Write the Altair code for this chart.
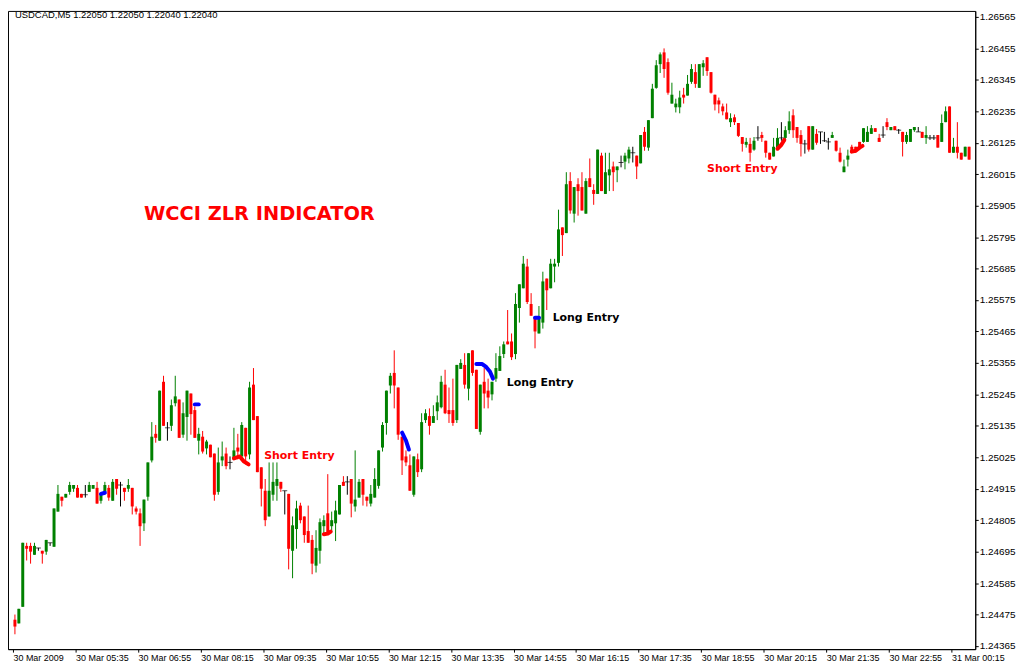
import json
import altair as alt
import pandas as pd

# ---------------- data (USDCAD M5, bar 0 = 30 Mar 04:15) ----------------
opens = [
    1.24457, 1.24444, 1.24502, 1.24715, 1.24715, 1.24684, 1.24708, 1.24698, 1.24695, 1.24726,
    1.24712, 1.24835, 1.24887, 1.24884, 1.24904, 1.24915, 1.24918, 1.24897, 1.24894, 1.24904,
    1.24915, 1.24918, 1.24873, 1.24904, 1.24918, 1.24873, 1.24949, 1.24928, 1.24918, 1.24915,
    1.24918, 1.24846, 1.24829, 1.24794, 1.24887, 1.25014, 1.25107, 1.25083, 1.25289, 1.25128,
    1.25135, 1.25214, 1.25227, 1.25104, 1.25166, 1.25248, 1.25190, 1.25083, 1.25097, 1.25056,
    1.25069, 1.25038, 1.24904, 1.25014, 1.25038, 1.25007, 1.25018, 1.25059, 1.25028, 1.25128,
    1.25035, 1.25279, 1.25169, 1.24990, 1.24908, 1.24818, 1.24894, 1.24925, 1.24939, 1.24908,
    1.24897, 1.24698, 1.24774, 1.24856, 1.24818, 1.24767, 1.24736, 1.24646, 1.24698, 1.24784,
    1.24829, 1.24784, 1.24794, 1.24825, 1.24939, 1.24939, 1.24949, 1.24853, 1.24884, 1.24949,
    1.24887, 1.24863, 1.24884, 1.24925, 1.25059, 1.25145, 1.25276, 1.25320, 1.25269, 1.25097,
    1.25028, 1.24997, 1.24894, 1.25018, 1.24983, 1.25155, 1.25169, 1.25145, 1.25186, 1.25200,
    1.25279, 1.25190, 1.25190, 1.25155, 1.25334, 1.25348, 1.25265, 1.25399, 1.25331, 1.25114,
    1.25289, 1.25258, 1.25245, 1.25300, 1.25327, 1.25386, 1.25430, 1.25430, 1.25386, 1.25547,
    1.25616, 1.25692, 1.25561, 1.25516, 1.25458, 1.25496, 1.25650, 1.25616, 1.25692, 1.25705,
    1.25829, 1.25809, 1.25991, 1.25877, 1.25980, 1.25970, 1.25877, 1.26001, 1.25960, 1.25946,
    1.26080, 1.25946, 1.26011, 1.26042, 1.26029, 1.26056, 1.26059, 1.26070, 1.26090, 1.26080,
    1.26053, 1.26163, 1.26108, 1.26211, 1.26317, 1.26400, 1.26441, 1.26407, 1.26262, 1.26249,
    1.26249, 1.26293, 1.26290, 1.26338, 1.26372, 1.26317, 1.26389, 1.26424, 1.26372, 1.26293,
    1.26273, 1.26252, 1.26231, 1.26197, 1.26214, 1.26194, 1.26145, 1.26118, 1.26121, 1.26101,
    1.26142, 1.26152, 1.26132, 1.26090, 1.26077, 1.26108, 1.26142, 1.26142, 1.26169, 1.26221,
    1.26180, 1.26152, 1.26121, 1.26183, 1.26101, 1.26156, 1.26163, 1.26132, 1.26128, 1.26142,
    1.26132, 1.26090, 1.26022, 1.26066, 1.26111, 1.26111, 1.26128, 1.26128, 1.26128, 1.26156,
    1.26176, 1.26142, 1.26152, 1.26197, 1.26169, 1.26183, 1.26169, 1.26163, 1.26128, 1.26128,
    1.26169, 1.26163, 1.26163, 1.26142, 1.26142, 1.26142, 1.26152, 1.26128, 1.26197, 1.26252,
    1.26090, 1.26111, 1.26090, 1.26077, 1.26111,
]
highs = [
    1.24475, 1.24495, 1.24726, 1.24726, 1.24726, 1.24726, 1.24708, 1.24698, 1.24736, 1.24726,
    1.24846, 1.24928, 1.24887, 1.24897, 1.24939, 1.24928, 1.24928, 1.24897, 1.24928, 1.24939,
    1.24928, 1.24939, 1.24897, 1.24939, 1.24928, 1.24949, 1.24949, 1.24939, 1.24918, 1.24949,
    1.24918, 1.24853, 1.24846, 1.24877, 1.25007, 1.25148, 1.25138, 1.25258, 1.25310, 1.25148,
    1.25227, 1.25310, 1.25227, 1.25217, 1.25258, 1.25248, 1.25203, 1.25128, 1.25117, 1.25086,
    1.25069, 1.25038, 1.25059, 1.25080, 1.25059, 1.25028, 1.25128, 1.25107, 1.25148, 1.25128,
    1.25289, 1.25337, 1.25169, 1.24990, 1.24949, 1.25007, 1.25007, 1.25007, 1.24939, 1.24908,
    1.24897, 1.24818, 1.24873, 1.24866, 1.24818, 1.24856, 1.24753, 1.24770, 1.24811, 1.24822,
    1.24966, 1.24835, 1.24873, 1.24928, 1.24959, 1.24959, 1.24949, 1.25049, 1.24949, 1.24949,
    1.24887, 1.24928, 1.24987, 1.25049, 1.25148, 1.25258, 1.25320, 1.25399, 1.25269, 1.25097,
    1.25049, 1.25035, 1.25028, 1.25038, 1.25179, 1.25193, 1.25196, 1.25207, 1.25241, 1.25310,
    1.25331, 1.25269, 1.25300, 1.25348, 1.25368, 1.25389, 1.25389, 1.25399, 1.25331, 1.25279,
    1.25337, 1.25300, 1.25289, 1.25389, 1.25413, 1.25430, 1.25540, 1.25458, 1.25599, 1.25630,
    1.25729, 1.25719, 1.25599, 1.25516, 1.25554, 1.25674, 1.25650, 1.25719, 1.25719, 1.25891,
    1.25829, 1.26022, 1.26022, 1.25970, 1.26001, 1.26022, 1.26001, 1.26070, 1.25980, 1.26101,
    1.26090, 1.26090, 1.26090, 1.26059, 1.26042, 1.26080, 1.26090, 1.26111, 1.26111, 1.26080,
    1.26152, 1.26180, 1.26204, 1.26331, 1.26414, 1.26441, 1.26455, 1.26420, 1.26335, 1.26279,
    1.26307, 1.26317, 1.26362, 1.26400, 1.26400, 1.26400, 1.26414, 1.26424, 1.26372, 1.26293,
    1.26283, 1.26262, 1.26262, 1.26228, 1.26224, 1.26194, 1.26145, 1.26142, 1.26142, 1.26145,
    1.26183, 1.26163, 1.26132, 1.26090, 1.26142, 1.26176, 1.26197, 1.26183, 1.26235, 1.26242,
    1.26180, 1.26169, 1.26135, 1.26183, 1.26183, 1.26173, 1.26163, 1.26163, 1.26142, 1.26163,
    1.26132, 1.26108, 1.26066, 1.26101, 1.26118, 1.26111, 1.26128, 1.26176, 1.26183, 1.26187,
    1.26176, 1.26156, 1.26183, 1.26211, 1.26180, 1.26183, 1.26173, 1.26163, 1.26163, 1.26173,
    1.26180, 1.26180, 1.26163, 1.26183, 1.26152, 1.26152, 1.26152, 1.26224, 1.26252, 1.26252,
    1.26142, 1.26197, 1.26090, 1.26111, 1.26111,
]
lows = [
    1.24406, 1.24444, 1.24502, 1.24664, 1.24653, 1.24684, 1.24698, 1.24653, 1.24684, 1.24715,
    1.24712, 1.24835, 1.24853, 1.24884, 1.24894, 1.24904, 1.24884, 1.24884, 1.24884, 1.24904,
    1.24915, 1.24863, 1.24863, 1.24904, 1.24873, 1.24873, 1.24894, 1.24853, 1.24873, 1.24904,
    1.24825, 1.24825, 1.24715, 1.24767, 1.24873, 1.25007, 1.25076, 1.25083, 1.25135, 1.25083,
    1.25117, 1.25203, 1.25093, 1.25093, 1.25083, 1.25104, 1.25093, 1.25035, 1.25038, 1.25035,
    1.25025, 1.24873, 1.24894, 1.24994, 1.24983, 1.24983, 1.25018, 1.25018, 1.25018, 1.25000,
    1.25018, 1.25155, 1.24973, 1.24853, 1.24784, 1.24818, 1.24873, 1.24873, 1.24904, 1.24825,
    1.24633, 1.24602, 1.24705, 1.24794, 1.24726, 1.24726, 1.24616, 1.24622, 1.24653, 1.24753,
    1.24753, 1.24763, 1.24732, 1.24825, 1.24925, 1.24894, 1.24815, 1.24835, 1.24884, 1.24856,
    1.24853, 1.24853, 1.24884, 1.24915, 1.25045, 1.25104, 1.25248, 1.25196, 1.25086, 1.24963,
    1.24994, 1.24908, 1.24887, 1.24956, 1.24973, 1.25145, 1.25104, 1.25145, 1.25155, 1.25196,
    1.25176, 1.25145, 1.25135, 1.25145, 1.25334, 1.25265, 1.25224, 1.25310, 1.25124, 1.25104,
    1.25196, 1.25196, 1.25224, 1.25289, 1.25327, 1.25372, 1.25420, 1.25365, 1.25368, 1.25496,
    1.25616, 1.25561, 1.25520, 1.25406, 1.25458, 1.25475, 1.25540, 1.25616, 1.25637, 1.25692,
    1.25729, 1.25809, 1.25877, 1.25846, 1.25870, 1.25888, 1.25877, 1.25970, 1.25908, 1.25946,
    1.25956, 1.25946, 1.25956, 1.25956, 1.25987, 1.26039, 1.26032, 1.26053, 1.26056, 1.25998,
    1.26053, 1.26097, 1.26097, 1.26211, 1.26314, 1.26369, 1.26352, 1.26293, 1.26262, 1.26231,
    1.26228, 1.26262, 1.26290, 1.26331, 1.26317, 1.26317, 1.26359, 1.26359, 1.26297, 1.26238,
    1.26228, 1.26221, 1.26207, 1.26180, 1.26187, 1.26145, 1.26094, 1.26108, 1.26059, 1.26097,
    1.26132, 1.26128, 1.26073, 1.26066, 1.26077, 1.26101, 1.26132, 1.26135, 1.26156, 1.26142,
    1.26125, 1.26077, 1.26087, 1.26094, 1.26101, 1.26118, 1.26121, 1.26128, 1.26101, 1.26142,
    1.26094, 1.26056, 1.26022, 1.26042, 1.26090, 1.26090, 1.26108, 1.26125, 1.26128, 1.26156,
    1.26163, 1.26128, 1.26142, 1.26169, 1.26169, 1.26169, 1.26156, 1.26077, 1.26121, 1.26128,
    1.26163, 1.26163, 1.26142, 1.26121, 1.26135, 1.26135, 1.26108, 1.26128, 1.26197, 1.26090,
    1.26090, 1.26070, 1.26066, 1.26077, 1.26066,
]
closes = [
    1.24433, 1.24495, 1.24726, 1.24705, 1.24695, 1.24715, 1.24708, 1.24688, 1.24736, 1.24726,
    1.24846, 1.24897, 1.24873, 1.24897, 1.24928, 1.24928, 1.24884, 1.24884, 1.24894, 1.24928,
    1.24928, 1.24863, 1.24897, 1.24928, 1.24884, 1.24939, 1.24915, 1.24928, 1.24904, 1.24928,
    1.24853, 1.24835, 1.24784, 1.24877, 1.25007, 1.25097, 1.25093, 1.25258, 1.25135, 1.25128,
    1.25207, 1.25238, 1.25093, 1.25179, 1.25258, 1.25176, 1.25093, 1.25107, 1.25045, 1.25080,
    1.25025, 1.24894, 1.25007, 1.25028, 1.24994, 1.25007, 1.25049, 1.25045, 1.25138, 1.25028,
    1.25269, 1.25155, 1.24973, 1.24915, 1.24805, 1.24908, 1.24939, 1.24949, 1.24915, 1.24908,
    1.24705, 1.24787, 1.24846, 1.24805, 1.24753, 1.24726, 1.24653, 1.24708, 1.24798, 1.24805,
    1.24763, 1.24805, 1.24839, 1.24928, 1.24925, 1.24939, 1.24863, 1.24877, 1.24939, 1.24894,
    1.24873, 1.24897, 1.24949, 1.25049, 1.25138, 1.25258, 1.25310, 1.25276, 1.25104, 1.25014,
    1.25007, 1.24908, 1.25028, 1.24973, 1.25148, 1.25179, 1.25135, 1.25169, 1.25217, 1.25289,
    1.25179, 1.25176, 1.25145, 1.25348, 1.25355, 1.25279, 1.25389, 1.25320, 1.25124, 1.25279,
    1.25248, 1.25234, 1.25289, 1.25337, 1.25379, 1.25420, 1.25420, 1.25375, 1.25561, 1.25630,
    1.25702, 1.25568, 1.25520, 1.25465, 1.25516, 1.25640, 1.25609, 1.25702, 1.25702, 1.25822,
    1.25802, 1.25980, 1.25888, 1.25970, 1.25956, 1.25888, 1.25991, 1.25970, 1.25946, 1.26101,
    1.25956, 1.26022, 1.26032, 1.26022, 1.26042, 1.26056, 1.26080, 1.26101, 1.26090, 1.26042,
    1.26152, 1.26111, 1.26204, 1.26314, 1.26396, 1.26434, 1.26383, 1.26300, 1.26293, 1.26262,
    1.26283, 1.26283, 1.26331, 1.26383, 1.26331, 1.26400, 1.26403, 1.26376, 1.26300, 1.26259,
    1.26259, 1.26235, 1.26207, 1.26211, 1.26197, 1.26149, 1.26121, 1.26128, 1.26090, 1.26132,
    1.26142, 1.26142, 1.26090, 1.26066, 1.26111, 1.26142, 1.26142, 1.26169, 1.26200, 1.26169,
    1.26142, 1.26121, 1.26121, 1.26101, 1.26183, 1.26125, 1.26163, 1.26132, 1.26128, 1.26152,
    1.26097, 1.26059, 1.26042, 1.26080, 1.26090, 1.26094, 1.26108, 1.26176, 1.26163, 1.26176,
    1.26163, 1.26128, 1.26152, 1.26180, 1.26180, 1.26169, 1.26169, 1.26128, 1.26152, 1.26173,
    1.26180, 1.26163, 1.26142, 1.26152, 1.26142, 1.26142, 1.26108, 1.26194, 1.26235, 1.26090,
    1.26111, 1.26090, 1.26066, 1.26111, 1.26066,
]

time_labels = [
    "30 Mar 2009", "30 Mar 05:35", "30 Mar 06:55", "30 Mar 08:15", "30 Mar 09:35",
    "30 Mar 10:55", "30 Mar 12:15", "30 Mar 13:35", "30 Mar 14:55", "30 Mar 16:15",
    "30 Mar 17:35", "30 Mar 18:55", "30 Mar 20:15", "30 Mar 21:35", "30 Mar 22:55",
    "31 Mar 00:15",
]
bars_per_label = 16
price_ticks = [
    1.26565, 1.26455, 1.26345, 1.26235, 1.26125, 1.26015, 1.25905, 1.25795, 1.25685,
    1.25575, 1.25465, 1.25355, 1.25245, 1.25135, 1.25025, 1.24915, 1.24805, 1.24695,
    1.24585, 1.24475, 1.24365,
]

# WCCI ZLR indicator signal traces
sig_id = [1, 1, 2, 2, 3, 3, 3, 4, 4, 4, 4, 4, 5, 5,
          6, 6, 6, 6, 7, 7, 7, 8, 8, 8, 9, 9, 9, 9]
sig_kind = ["long"] * 14 + ["short"] * 14
sig_bar = [22, 23, 46, 47, 99, 100, 100.75, 118, 119.5, 120.5, 121.5, 122.25, 133, 134,
           56, 57.5, 58.5, 59.75, 79, 80, 80.75, 195, 196, 196.75, 214, 215, 216, 216.75]
sig_price = [1.24897, 1.24901, 1.25210, 1.25210, 1.25111, 1.25083, 1.25052,
             1.25351, 1.25351, 1.25341, 1.25324, 1.25300, 1.25513, 1.25513,
             1.25021, 1.25028, 1.25011, 1.25000, 1.24756, 1.24758, 1.24765,
             1.26104, 1.26118, 1.26135, 1.26094, 1.26097, 1.26108, 1.26114]

note_text = ["Short Entry", "Long Entry", "Long Entry", "Short Entry"]
note_kind = ["short", "long", "long", "short"]
note_bar = [63.75, 137.5, 125.75, 177]
note_price = [1.25031, 1.25513, 1.25286, 1.26032]

title_text = ["WCCI ZLR INDICATOR"]
title_bar = [62.5]
title_price = [1.25874]

header_text = ["USDCAD,M5  1.22050 1.22050 1.22040 1.22040"]
header_bar = [0]
header_price = [1.26572]

# ---------------- tables ----------------
direction = ["up" if c > o else ("down" if c < o else "flat") for o, c in zip(opens, closes)]
candles = pd.DataFrame({
    "bar": list(range(len(opens))), "open": opens, "high": highs,
    "low": lows, "close": closes, "dir": direction,
})
signals = pd.DataFrame({"sid": sig_id, "kind": sig_kind, "bar": sig_bar, "price": sig_price})
notes = pd.DataFrame({"text": note_text, "kind": note_kind, "bar": note_bar, "price": note_price})
titles = pd.DataFrame({"text": title_text, "bar": title_bar, "price": title_price})
header = pd.DataFrame({"text": header_text, "bar": header_bar, "price": header_price})

# ---------------- scales / axes ----------------
x_scale = alt.Scale(domain=[-0.5, 244.3], nice=False, zero=False)
y_scale = alt.Scale(domain=[1.24354, 1.26586], nice=False, zero=False)

label_expr = json.dumps(time_labels) + "[round((datum.value + 0.5) / %d)]" % bars_per_label
x_axis = alt.Axis(
    values=[bars_per_label * k - 0.5 for k in range(len(time_labels))],
    labelExpr=label_expr, labelAlign="left", labelBaseline="top", labelPadding=1,
    labelFontSize=9, labelFont="Liberation Sans", labelColor="black",
    tickSize=3, tickColor="black", domainColor="black", grid=False,
    labelOverlap=False, title=None,
)
y_axis = alt.Axis(
    values=price_ticks, format=".5f", orient="right", labelPadding=1,
    labelFontSize=10, labelFont="Liberation Sans", labelColor="black",
    tickSize=3, tickColor="black", domainColor="black", grid=False,
    labelOverlap=False, title=None,
)


def X():
    return alt.X("bar:Q", scale=x_scale, axis=x_axis, title=None)


def Y(field):
    return alt.Y(field + ":Q", scale=y_scale, axis=y_axis, title=None)


candle_color = alt.Color(
    "dir:N", legend=None,
    scale=alt.Scale(domain=["up", "down", "flat"], range=["#008000", "#ff0000", "#000000"]),
)

wicks = alt.Chart(candles).mark_rule(strokeWidth=1).encode(
    x=X(), y=Y("low"), y2="high:Q", color=candle_color
)
bodies = alt.Chart(candles).transform_filter("datum.dir != 'flat'").mark_bar(size=3).encode(
    x=X(), y=Y("open"), y2="close:Q", color=candle_color
)
dojis = alt.Chart(candles).transform_filter("datum.dir == 'flat'").mark_tick(
    orient="horizontal", size=5, thickness=1, color="black"
).encode(x=X(), y=Y("open"))

sig_lines = alt.Chart(signals).mark_line(
    strokeWidth=4, strokeCap="round", strokeJoin="round"
).encode(
    x=X(), y=Y("price"), detail="sid:N",
    color=alt.Color("kind:N", legend=None,
                    scale=alt.Scale(domain=["long", "short"], range=["#0000ff", "#ff0000"])),
)

note_marks = alt.Chart(notes).mark_text(
    align="left", baseline="middle", font="DejaVu Sans", fontWeight="bold", fontSize=11
).encode(
    x=X(), y=Y("price"), text="text:N",
    color=alt.Color("kind:N", legend=None,
                    scale=alt.Scale(domain=["long", "short"], range=["#000000", "#ff0000"])),
)

title_mark = alt.Chart(titles).mark_text(
    align="center", baseline="middle", font="DejaVu Sans", fontWeight="bold",
    fontSize=19.5, color="#ff0000"
).encode(x=X(), y=Y("price"), text="text:N")

header_mark = alt.Chart(header).mark_text(
    align="left", baseline="middle", font="Liberation Sans", fontSize=9.5, color="black"
).encode(x=X(), y=Y("price"), text="text:N")

chart = alt.layer(
    wicks, bodies, dojis, sig_lines, note_marks, title_mark, header_mark
).resolve_scale(color="independent").properties(
    width=973, height=642, padding=0, background="white"
).configure_view(stroke="black", strokeWidth=1)

chart.save("out.html", embed_options={"renderer": "svg", "actions": False})
